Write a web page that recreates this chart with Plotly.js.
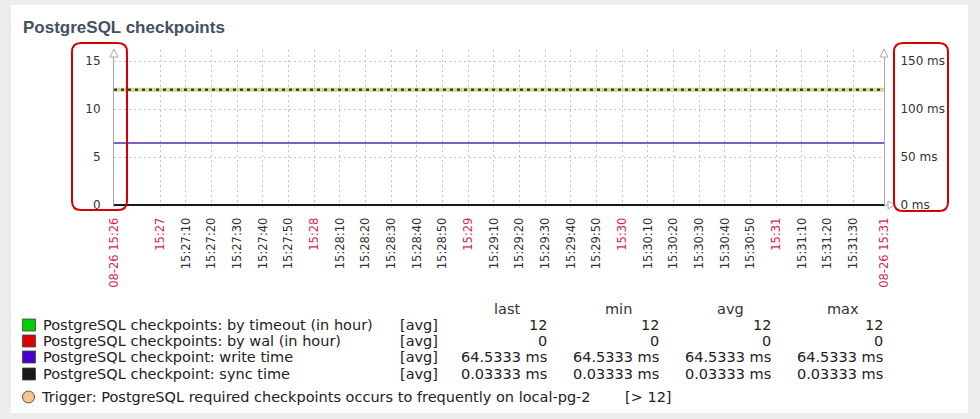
<!DOCTYPE html>
<html>
<head>
<meta charset="utf-8">
<script src="https://cdn.plot.ly/plotly-3.0.1.min.js"></script>
<style>
  html, body { margin: 0; padding: 0; background: #ebedef; }
  #chart { width: 980px; height: 419px; }
</style>
</head>
<body>
<div id="chart"></div>
<script>
// ---------------- data ----------------
const times = ['2024-08-26 15:26:42', '2024-08-26 15:27:42', '2024-08-26 15:28:42',
               '2024-08-26 15:29:42', '2024-08-26 15:30:42', '2024-08-26 15:31:42'];
const byTimeout = [12, 12, 12, 12, 12, 12];
const byWal = [0, 0, 0, 0, 0, 0];
const writeTime = [64.5333, 64.5333, 64.5333, 64.5333, 64.5333, 64.5333];
const syncTime = [0.03333, 0.03333, 0.03333, 0.03333, 0.03333, 0.03333];
const triggerLevel = [12, 12, 12, 12, 12, 12];

const seriesNames = ['PostgreSQL checkpoints: by timeout (in hour)',
                     'PostgreSQL checkpoints: by wal (in hour)',
                     'PostgreSQL checkpoint: write time',
                     'PostgreSQL checkpoint: sync time'];
const seriesColors = ['#00d000', '#dd0000', '#4a00cc', '#1a1a1a'];
const legendFunc = ['[avg]', '[avg]', '[avg]', '[avg]'];
const statHeaders = ['last', 'min', 'avg', 'max'];
const lastVals = ['12', '0', '64.5333 ms', '0.03333 ms'];
const minVals = ['12', '0', '64.5333 ms', '0.03333 ms'];
const avgVals = ['12', '0', '64.5333 ms', '0.03333 ms'];
const maxVals = ['12', '0', '64.5333 ms', '0.03333 ms'];
const triggerText = 'Trigger: PostgreSQL required checkpoints occurs to frequently on local-pg-2';
const triggerCond = '[> 12]';

const xRange = ['2024-08-26 15:26:42', '2024-08-26 15:31:42'];
const tickTimes = ['2024-08-26 15:26:42',
  '2024-08-26 15:27:00', '2024-08-26 15:27:10', '2024-08-26 15:27:20', '2024-08-26 15:27:30', '2024-08-26 15:27:40', '2024-08-26 15:27:50',
  '2024-08-26 15:28:00', '2024-08-26 15:28:10', '2024-08-26 15:28:20', '2024-08-26 15:28:30', '2024-08-26 15:28:40', '2024-08-26 15:28:50',
  '2024-08-26 15:29:00', '2024-08-26 15:29:10', '2024-08-26 15:29:20', '2024-08-26 15:29:30', '2024-08-26 15:29:40', '2024-08-26 15:29:50',
  '2024-08-26 15:30:00', '2024-08-26 15:30:10', '2024-08-26 15:30:20', '2024-08-26 15:30:30', '2024-08-26 15:30:40', '2024-08-26 15:30:50',
  '2024-08-26 15:31:00', '2024-08-26 15:31:10', '2024-08-26 15:31:20', '2024-08-26 15:31:30',
  '2024-08-26 15:31:42'];
const tickLabels = ['08-26 15:26',
  '15:27', '15:27:10', '15:27:20', '15:27:30', '15:27:40', '15:27:50',
  '15:28', '15:28:10', '15:28:20', '15:28:30', '15:28:40', '15:28:50',
  '15:29', '15:29:10', '15:29:20', '15:29:30', '15:29:40', '15:29:50',
  '15:30', '15:30:10', '15:30:20', '15:30:30', '15:30:40', '15:30:50',
  '15:31', '15:31:10', '15:31:20', '15:31:30',
  '08-26 15:31'];
const redLabels = ['08-26 15:26', '15:27', '15:28', '15:29', '15:30', '15:31', '08-26 15:31'];

// ---------------- layout helpers ----------------
const L = 114, R = 884, T = 50, B = 207;   // B = bottom of plot area (zero sits at 205)
const ZERO = 205;
const fx = x => (x - L) / (R - L);
const fy = y => (B - y) / (B - T);
const RED = '#d7264a';
const FONT = 'DejaVu Sans, sans-serif';

const tickText = tickLabels.map(t => redLabels.includes(t)
  ? '<span style="color:' + RED + '">' + t + '</span>' : t);

const pxPerUnitL = 144 / 15;      // 15 sits 144px above zero
const pxPerUnitR = 144 / 150;
const yRangeLeft = [-(B - ZERO) / pxPerUnitL, (ZERO - T) / pxPerUnitL];
const yRangeRight = [-(B - ZERO) / pxPerUnitR, (ZERO - T) / pxPerUnitR];

const traces = [
  { x: times, y: byTimeout, type: 'scatter', mode: 'lines', yaxis: 'y',
    line: { color: '#cfd88f', width: 4 }, hoverinfo: 'skip' },
  { x: times, y: byWal, type: 'scatter', mode: 'lines', yaxis: 'y',
    line: { color: seriesColors[1], width: 2 }, hoverinfo: 'skip' },
  { x: times, y: writeTime, type: 'scatter', mode: 'lines', yaxis: 'y2',
    line: { color: '#7d5fc9', width: 2 }, hoverinfo: 'skip' },
  { x: times, y: syncTime, type: 'scatter', mode: 'lines', yaxis: 'y2',
    line: { color: '#1a1a1a', width: 2 }, hoverinfo: 'skip' },
  { x: times, y: triggerLevel, type: 'scatter', mode: 'lines', yaxis: 'y',
    line: { color: '#3c4628', width: 2.5, dash: '3px,4px' }, hoverinfo: 'skip' }
];

// ---------------- shapes ----------------
function roundRect(x0, y0, x1, y1, r) {
  const X = v => fx(v), Y = v => fy(v);
  return 'M' + X(x0 + r) + ',' + Y(y0) +
    ' L' + X(x1 - r) + ',' + Y(y0) +
    ' Q' + X(x1) + ',' + Y(y0) + ' ' + X(x1) + ',' + Y(y0 + r) +
    ' L' + X(x1) + ',' + Y(y1 - r) +
    ' Q' + X(x1) + ',' + Y(y1) + ' ' + X(x1 - r) + ',' + Y(y1) +
    ' L' + X(x0 + r) + ',' + Y(y1) +
    ' Q' + X(x0) + ',' + Y(y1) + ' ' + X(x0) + ',' + Y(y1 - r) +
    ' L' + X(x0) + ',' + Y(y0 + r) +
    ' Q' + X(x0) + ',' + Y(y0) + ' ' + X(x0 + r) + ',' + Y(y0) + ' Z';
}
function poly(pts) {
  return 'M' + pts.map(p => fx(p[0]) + ',' + fy(p[1])).join(' L');
}

const shapes = [
  // white panel
  { type: 'rect', xref: 'paper', yref: 'paper', layer: 'below',
    x0: fx(11), x1: fx(968), y0: fy(413), y1: fy(5),
    fillcolor: '#ffffff', line: { width: 0 } },
  // axis arrows (top of left/right axes)
  { type: 'path', xref: 'paper', yref: 'paper', layer: 'above',
    path: poly([[L - 4, 57], [L, 49], [L + 4, 57], [L - 4, 57]]) + ' Z',
    fillcolor: '#ffffff', line: { color: '#a8a8a8', width: 1 } },
  { type: 'path', xref: 'paper', yref: 'paper', layer: 'above',
    path: poly([[R - 4, 57], [R, 49], [R + 4, 57], [R - 4, 57]]) + ' Z',
    fillcolor: '#ffffff', line: { color: '#a8a8a8', width: 1 } },
  // x axis extension + arrow on the right
  { type: 'path', xref: 'paper', yref: 'paper', layer: 'above',
    path: poly([[R, ZERO], [R + 8, ZERO]]), line: { color: '#a8a8a8', width: 1 } },
  { type: 'path', xref: 'paper', yref: 'paper', layer: 'above',
    path: poly([[R + 4, ZERO - 4], [R + 11, ZERO], [R + 4, ZERO + 4], [R + 4, ZERO - 4]]) + ' Z',
    fillcolor: '#ffffff', line: { color: '#a8a8a8', width: 1 } },
  // red highlight boxes
  { type: 'path', xref: 'paper', yref: 'paper', layer: 'above',
    path: roundRect(72, 43, 127, 210, 9), line: { color: '#d40000', width: 2 } },
  { type: 'path', xref: 'paper', yref: 'paper', layer: 'above',
    path: roundRect(894, 43, 948, 211, 9), line: { color: '#d40000', width: 2 } }
];

// legend swatches
const rowY = [325, 341, 357, 374];
seriesColors.forEach((c, i) => {
  shapes.push({ type: 'rect', xref: 'paper', yref: 'paper', layer: 'above',
    x0: fx(22.5), x1: fx(35.5), y0: fy(rowY[i] + 6), y1: fy(rowY[i] - 6),
    fillcolor: c, line: { color: '#444', width: 0.8 } });
});
// trigger circle
shapes.push({ type: 'circle', xref: 'paper', yref: 'paper', layer: 'above',
  x0: fx(22.5), x1: fx(34.5), y0: fy(403), y1: fy(391),
  fillcolor: '#f8c390', line: { color: '#555', width: 1 } });

// ---------------- annotations ----------------
const annotations = [];
function txt(text, x, y, anchor, size, color, extra) {
  annotations.push(Object.assign({
    text: text, xref: 'paper', yref: 'paper', x: fx(x), y: fy(y),
    xanchor: anchor, yanchor: 'middle', showarrow: false,
    font: { family: FONT, size: size, color: color }, borderpad: 0
  }, extra || {}));
}
txt('<b>PostgreSQL checkpoints</b>', 22, 27, 'left', 17, '#44515e',
  { font: { family: 'Liberation Sans, Arial, sans-serif', size: 17, color: '#44515e' } });

const LF = 14.5;
const headerX = [507, 618, 730, 843];
statHeaders.forEach((h, i) => txt(h, headerX[i], 309, 'center', LF, '#333'));
const colRight = [548, 660, 772, 884];
const cols = [lastVals, minVals, avgVals, maxVals];
seriesNames.forEach((n, i) => {
  txt(n, 42, rowY[i], 'left', LF, '#222');
  txt(legendFunc[i], 399, rowY[i], 'left', LF, '#222');
  cols.forEach((col, j) => txt(col[i], colRight[j], rowY[i], 'right', LF, '#222'));
});
txt(triggerText, 40, 397, 'left', LF, '#222');
txt(triggerCond, 624, 397, 'left', LF, '#222');

// ---------------- layout ----------------
const layout = {
  width: 980, height: 419,
  margin: { l: L, r: 980 - R, t: T, b: 419 - B, pad: 0 },
  paper_bgcolor: '#ebedef',
  plot_bgcolor: 'rgba(0,0,0,0)',
  showlegend: false,
  xaxis: {
    type: 'date', range: xRange, tickmode: 'array',
    tickvals: tickTimes, ticktext: tickText, tickangle: -90,
    tickfont: { family: FONT, size: 11.5, color: '#333' },
    showgrid: true, gridcolor: '#c4c4c4', griddash: '2px,3px', gridwidth: 1,
    showline: false, zeroline: false,
    ticks: 'outside', ticklen: 2, tickcolor: 'rgba(0,0,0,0)', ticklabelstandoff: 3,
    fixedrange: true
  },
  yaxis: {
    range: yRangeLeft, tickmode: 'array', tickvals: [0, 5, 10, 15],
    tickfont: { family: FONT, size: 12, color: '#333' },
    showgrid: true, gridcolor: '#c4c4c4', griddash: '2px,3px', gridwidth: 1,
    showline: true, linecolor: '#a8a8a8', linewidth: 1, zeroline: false,
    ticks: '', ticklabelstandoff: 10, fixedrange: true
  },
  yaxis2: {
    overlaying: 'y', side: 'right',
    range: yRangeRight, tickmode: 'array', tickvals: [0, 50, 100, 150],
    ticktext: ['0 ms', '50 ms', '100 ms', '150 ms'],
    tickfont: { family: FONT, size: 12, color: '#333' },
    showgrid: false, showline: true, linecolor: '#a8a8a8', linewidth: 1,
    zeroline: false, ticks: '', ticklabelstandoff: 13, fixedrange: true
  },
  shapes: shapes,
  annotations: annotations
};

Plotly.newPlot('chart', traces, layout, { displayModeBar: false, staticPlot: true });
</script>
</body>
</html>
